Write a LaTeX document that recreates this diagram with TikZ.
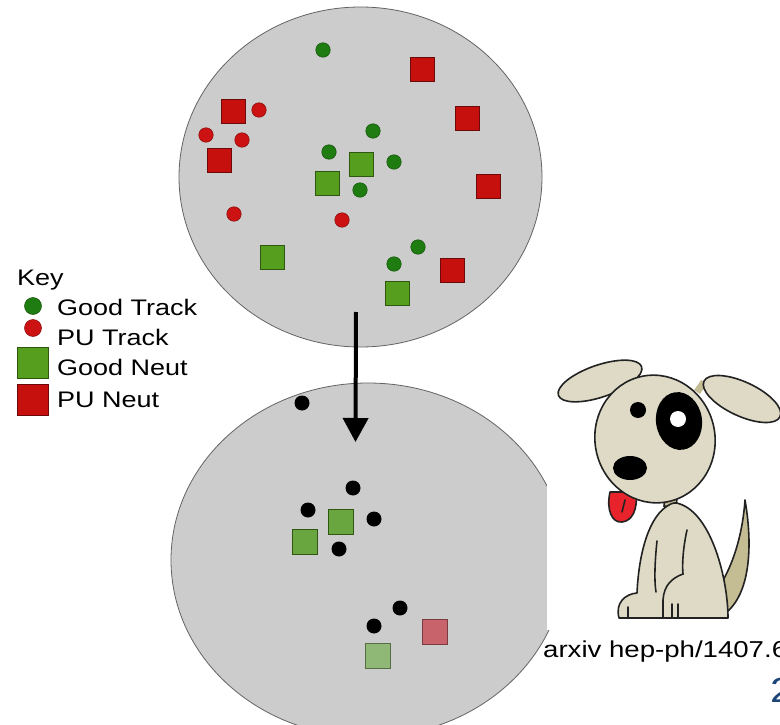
\documentclass[tikz,border=0pt]{standalone}
\usepackage{fontspec}
\setmainfont{Liberation Sans}
\usepackage{graphicx}
\usetikzlibrary{arrows.meta,positioning,shapes.geometric}
\definecolor{BlobGray}{RGB}{204,204,204}
\definecolor{BlobEdge}{RGB}{100,100,100}
\definecolor{TrkGreen}{RGB}{30,124,16}
\definecolor{TrkRed}{RGB}{204,18,18}
\definecolor{NeutGreen}{RGB}{85,158,30}
\definecolor{NeutRed}{RGB}{198,16,14}
\definecolor{KeptGreen}{RGB}{106,166,64}
\definecolor{FadeGreen}{RGB}{143,183,117}
\definecolor{FadeRed}{RGB}{201,99,107}
\definecolor{DogFur}{RGB}{222,218,198}
\definecolor{DogTan}{RGB}{196,188,146}
\definecolor{DogLine}{RGB}{34,34,34}
\definecolor{TongueRed}{RGB}{232,35,43}
\definecolor{SlideBlue}{RGB}{28,70,120}
\newcommand{\keyfont}{\fontsize{22.5}{27}\selectfont}
\newcommand{\wtext}[1]{\scalebox{1.2}[1]{#1}}
\tikzset{
  blob/.style   ={ellipse, draw=BlobEdge, line width=.8pt, fill=BlobGray,
                  inner sep=0pt, outer sep=0pt},
  gtrk/.style   ={circle, draw=TrkGreen!65!black, line width=.5pt, fill=TrkGreen,
                  minimum size=14.5pt, inner sep=0pt},
  ptrk/.style   ={circle, draw=TrkRed!65!black, line width=.5pt, fill=TrkRed,
                  minimum size=14.5pt, inner sep=0pt},
  ctrk/.style   ={circle, fill=black, minimum size=15pt, inner sep=0pt},
  gneut/.style  ={rectangle, draw=NeutGreen!55!black, line width=.6pt, fill=NeutGreen,
                  minimum size=24pt, inner sep=0pt},
  pneut/.style  ={rectangle, draw=NeutRed!55!black, line width=.6pt, fill=NeutRed,
                  minimum size=24pt, inner sep=0pt},
  keytxt/.style ={anchor=base west, inner sep=0pt, font=\keyfont},
  pointer/.style={-{Triangle[length=24pt,width=25pt]}, line width=4pt},
  dog/.style    ={draw=DogLine, line width=1.6pt, fill=DogFur, line join=round},
  dogline/.style={draw=DogLine, line width=1.6pt, line cap=round},
}
\begin{document}
\begin{tikzpicture}[x=1pt,y=-1pt]
  \useasboundingbox (0,0) rectangle (780,725);
  \clip (0,0) rectangle (780,725);
  \fill[white] (0,0) rectangle (780,725);

  \node[blob, minimum width=363pt, minimum height=340pt] (before) at (360.5,177) {};
  \node[blob, minimum width=394pt, minimum height=354pt] (after) at (368,560) {};

  % full event
  \foreach \x/\y [count=\i] in {323/50,373/131,329/152,394/162,360/190,418/247,394/264}
    \node[gtrk] (gt\i) at (\x,\y) {};
  \foreach \x/\y [count=\i] in {259/110,206/135,242/140,234/214,342/220}
    \node[ptrk] (pt\i) at (\x,\y) {};
  \foreach \x/\y [count=\i] in {422/69,233/111,467/118,219/160,488/186,452/270}
    \node[pneut] (pn\i) at (\x,\y) {};
  \foreach \x/\y [count=\i] in {361/164,327/183,272/257,397/293}
    \node[gneut] (gn\i) at (\x,\y) {};

  % after pile-up removal
  \foreach \x/\y [count=\i] in {302/403,353/488,308/510,374/519,339/549,400/608,374/626}
    \node[ctrk] (ct\i) at (\x,\y) {};
  \node[gneut, fill=KeptGreen, minimum size=25pt] (kn1) at (341,522) {};
  \node[gneut, fill=KeptGreen, minimum size=25pt] (kn2) at (305,542) {};
  \node[gneut, fill=FadeGreen, draw=FadeGreen!60!black, minimum size=25pt] (fn1) at (378,656) {};
  \node[pneut, fill=FadeRed, draw=FadeRed!60!black, minimum size=25pt] (fn2) at (435,632) {};

  \draw[pointer] ([xshift=-4.5pt,yshift=35pt]before.south) -- ([xshift=-12.5pt,yshift=-59pt]after.north);

  % key
  \node[keytxt] (keyhead) at (17,285) {\wtext{Key}};
  \node[gtrk, minimum size=17pt] (kgt) at (33,306) {};
  \node[ptrk, minimum size=17pt] (kpt) at (33,328) {};
  \node[gneut, minimum size=31pt] (kgn) at (33,363) {};
  \node[pneut, minimum size=31pt] (kpn) at (33,399.5) {};
  \node[keytxt] (lgt) at (57,315) {\wtext{Good Track}};
  \node[keytxt] (lpt) at (57,345) {\wtext{PU Track}};
  \node[keytxt] (lgn) at (57,375) {\wtext{Good Neut}};
  \node[keytxt] (lpn) at (57,407) {\wtext{PU Neut}};

  % puppy
  \fill[white] (547,340) rectangle (780,630);
  \draw[dog, fill=DogTan] (722,582) .. controls (735,560) and (743,530) .. (745,500)
    .. controls (752,540) and (752,590) .. (727,612) -- cycle;
  \draw[dogline, fill=DogTan] (665,496) -- (677,498) -- (676,508) -- (664,506) -- cycle;
  \draw[dog] (669,505) .. controls (650,515) and (639,550) .. (637,593)
    .. controls (625,594) and (615,603) .. (619,618) -- (728,618)
    .. controls (728,580) and (712,515) .. (680,504)
    .. controls (676,502) and (672,503) .. (669,505) -- cycle;
  \draw[dogline] (657,541) .. controls (655,560) and (654,580) .. (656,592);
  \draw[dogline] (687,530) .. controls (683,548) and (682,565) .. (683,574)
    .. controls (672,578) and (664,585) .. (663,600) -- (663,617);
  \draw[dogline] (628,607) -- (628,617);
  \draw[dogline] (672,604) -- (672,617);
  \draw[dogline] (678,604) -- (678,617);
  \draw[dog, fill=TongueRed] (610,492) .. controls (606,510) and (612,523) .. (622,522)
    .. controls (632,521) and (638,510) .. (636,492) -- cycle;
  \draw[dogline] (625,500) -- (622,512);
  \draw[DogTan, line width=7pt] (633,373) -- (638,385);
  \draw[DogTan, line width=7pt] (704,382) -- (697,392);
  \draw[dog, rotate around={19:(600,381)}] (600,381) ellipse [x radius=44, y radius=16];
  \draw[dog, rotate around={-25:(742,399)}] (742,399) ellipse [x radius=42, y radius=17];
  \draw[dog, rotate around={12:(655,439)}] (655,439) ellipse [x radius=60, y radius=64];
  \fill[black, rotate around={8:(679,421)}] (679,421) ellipse [x radius=23, y radius=29];
  \fill[white] (678,419) circle [radius=8];
  \fill[black] (638,410) circle [radius=8];
  \fill[black] (630,468) ellipse [x radius=17, y radius=12];

  \node[keytxt, font=\fontsize{23}{27}\selectfont] (cite) at (543,657) {\wtext{arxiv hep-ph/1407.6019}};
  \node[keytxt, font=\fontsize{35}{40}\selectfont, text=SlideBlue] (pageno) at (770,702) {\wtext{2}};
\end{tikzpicture}
\end{document}
